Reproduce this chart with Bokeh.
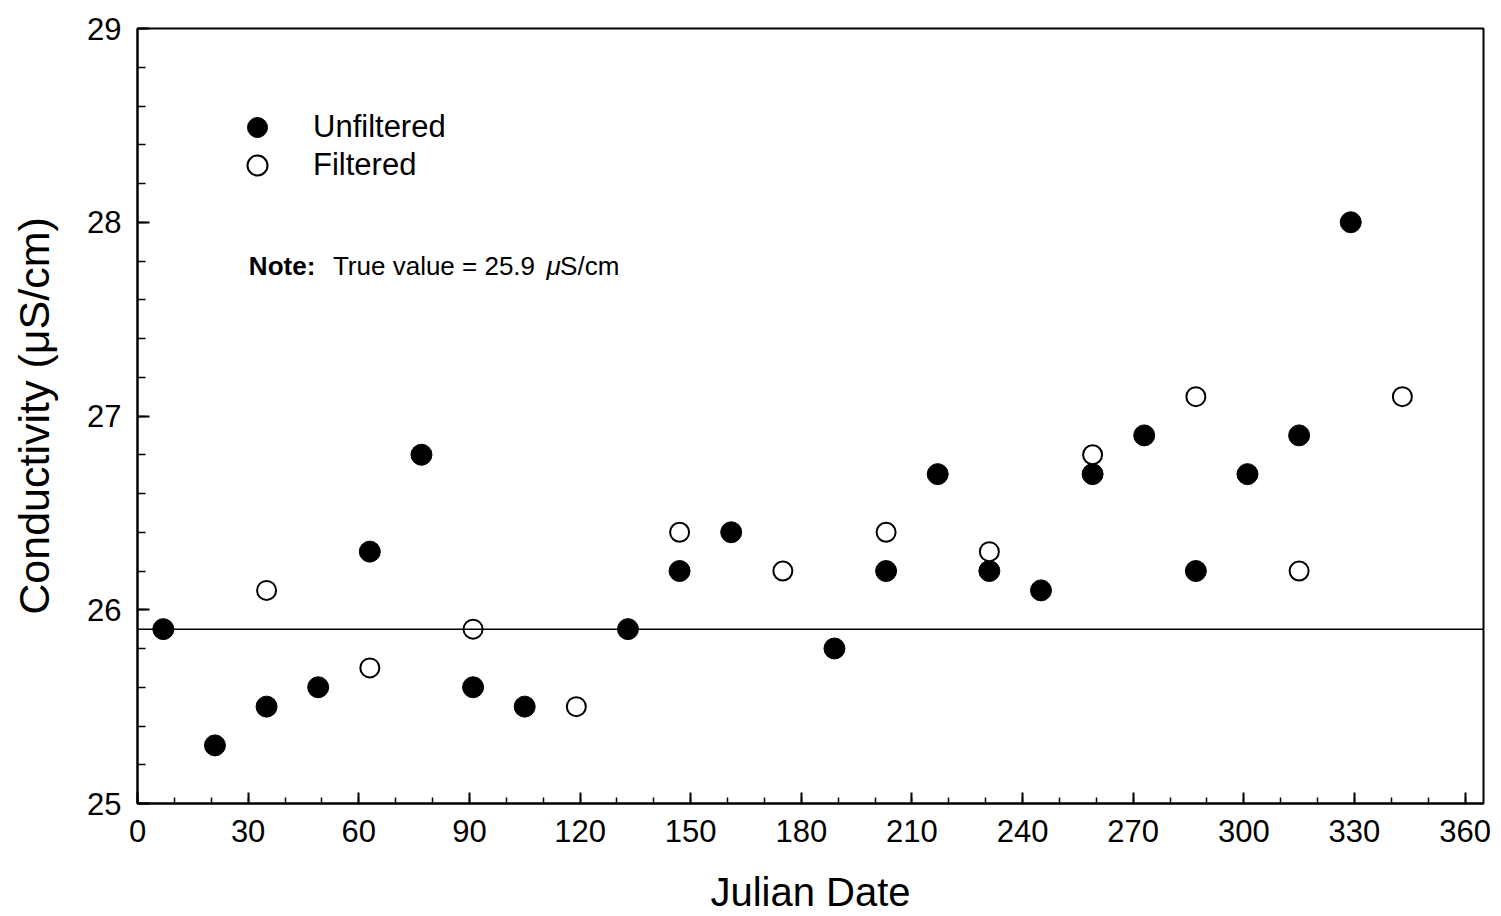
from bokeh.plotting import figure
from bokeh.models import (Span, Label, Legend, LegendItem, SingleIntervalTicker,
                          Range1d)
from bokeh.embed import file_html
from bokeh.resources import INLINE

# ---------------- data ----------------
unf_day = [7, 21, 35, 49, 63, 77, 91, 105, 133, 147, 161, 189, 203, 217,
           231, 245, 259, 273, 287, 301, 315, 329]
unf_val = [25.9, 25.3, 25.5, 25.6, 26.3, 26.8, 25.6, 25.5, 25.9, 26.2, 26.4,
           25.8, 26.2, 26.7, 26.2, 26.1, 26.7, 26.9, 26.2, 26.7, 26.9, 28.0]
filt_day = [35, 63, 91, 119, 147, 175, 203, 231, 259, 287, 315, 343]
filt_val = [26.1, 25.7, 25.9, 25.5, 26.4, 26.2, 26.4, 26.3, 26.8, 27.1,
            26.2, 27.1]
true_value = 25.9
x_label = "Julian Date"
y_label = "Conductivity (\u03bcS/cm)"

FONT = "Liberation Sans"

p = figure(width=1501, height=916, output_backend="svg", toolbar_location=None,
           x_range=Range1d(0, 365), y_range=Range1d(25, 29),
           min_border_left=137, min_border_right=18, min_border_top=28,
           min_border_bottom=113)
p.background_fill_color = "white"
p.border_fill_color = "white"
p.outline_line_color = "black"
p.outline_line_width = 2
p.xgrid.visible = False
p.ygrid.visible = False

p.xaxis.ticker = SingleIntervalTicker(interval=30, num_minor_ticks=3)
p.yaxis.ticker = SingleIntervalTicker(interval=1, num_minor_ticks=5)

for ax in (p.xaxis[0], p.yaxis[0]):
    ax.axis_line_color = "black"
    ax.axis_line_width = 2
    ax.major_tick_line_color = "black"
    ax.major_tick_line_width = 2
    ax.minor_tick_line_color = "black"
    ax.minor_tick_line_width = 1.5
    ax.major_tick_out = 0
    ax.minor_tick_out = 0
    ax.major_label_text_font = FONT
    ax.major_label_text_font_size = "31px"
    ax.major_label_text_color = "black"
    ax.axis_label_text_font = FONT
    ax.axis_label_text_font_style = "normal"
    ax.axis_label_text_color = "black"

p.xaxis.axis_label_text_font_size = "40px"
p.yaxis.axis_label_text_font_size = "43px"
p.xaxis.major_tick_in = 11
p.xaxis.minor_tick_in = 6
p.yaxis.major_tick_in = 12
p.yaxis.minor_tick_in = 8
p.xaxis.major_label_standoff = 16
p.yaxis.major_label_standoff = 16
p.xaxis.axis_label = x_label
p.yaxis.axis_label = y_label
p.xaxis.axis_label_standoff = 25
p.yaxis.axis_label_standoff = 26

p.add_layout(Span(location=true_value, dimension="width", line_color="black",
                  line_width=1.5))

r_unf = p.scatter(unf_day, unf_val, marker="circle", size=21,
                  fill_color="black", line_color="black")
r_filt = p.scatter(filt_day, filt_val, marker="circle", size=19,
                   fill_color="white", line_color="black", line_width=2)

legend_style = dict(orientation="vertical", glyph_width=50, glyph_height=50,
                    label_standoff=31, padding=0, margin=0,
                    border_line_color=None, background_fill_alpha=0,
                    label_text_font=FONT, label_text_font_size="31px",
                    label_text_color="black")
p.add_layout(Legend(items=[LegendItem(label="Unfiltered", renderers=[r_unf])],
                    location=(95, 651), **legend_style))
p.add_layout(Legend(items=[LegendItem(label="Filtered", renderers=[r_filt])],
                    location=(95, 613), **legend_style))

note_y = 27.775
p.add_layout(Label(x=30.2, y=note_y, text="Note:", text_font=FONT,
                   text_font_style="bold", text_font_size="26px",
                   text_color="black", text_baseline="alphabetic"))
p.add_layout(Label(x=53.0, y=note_y, text="True value = 25.9", text_font=FONT,
                   text_font_size="26px", text_color="black",
                   text_baseline="alphabetic"))
p.add_layout(Label(x=110.9, y=note_y, text="\u03bc", text_font=FONT,
                   text_font_style="italic", text_font_size="26px",
                   text_color="black", text_baseline="alphabetic"))
p.add_layout(Label(x=114.6, y=note_y, text="S/cm", text_font=FONT,
                   text_font_size="26px", text_color="black",
                   text_baseline="alphabetic"))

open("out.html", "w").write(file_html(p, INLINE))
